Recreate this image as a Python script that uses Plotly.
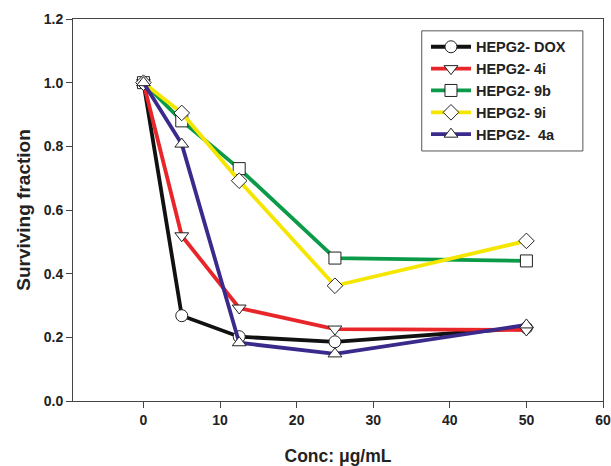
import plotly.graph_objects as go

conc = [0, 5, 12.5, 25, 50]
series_names = ["HEPG2- DOX", "HEPG2- 4i", "HEPG2- 9b", "HEPG2- 9i", "HEPG2-  4a"]
dox = [1.0, 0.268, 0.202, 0.186, 0.23]
s4i = [1.0, 0.519, 0.292, 0.226, 0.223]
s9b = [1.0, 0.88, 0.73, 0.449, 0.44]
s9i = [1.0, 0.905, 0.692, 0.362, 0.503]
s4a = [1.0, 0.807, 0.183, 0.148, 0.239]
colors = ["#111111", "#e8262a", "#0a9a48", "#f5e600", "#3b2a8c"]
symbols = ["circle", "triangle-down", "square", "diamond", "triangle-up"]
x_ticks = [0, 10, 20, 30, 40, 50, 60]
y_ticks = [0.0, 0.2, 0.4, 0.6, 0.8, 1.0, 1.2]

fig = go.Figure()
for name, vals, col, sym in zip(series_names, [dox, s4i, s9b, s9i, s4a], colors, symbols):
    fig.add_trace(go.Scatter(
        x=conc, y=vals, name=name, mode="lines+markers",
        line=dict(color=col, width=3.8),
        marker=dict(symbol=sym, size=12, color="white",
                    line=dict(color="#222222", width=1)),
    ))

font_family = "Liberation Sans, Arial, sans-serif"
# legend frame (paper coords, relative to the plot area)
fig.add_shape(type="rect", xref="paper", yref="paper",
              x0=0.658, x1=0.962, y0=0.6545, y1=0.969,
              line=dict(color="#555555", width=1), fillcolor="white", layer="above")

fig.update_layout(
    width=611, height=466,
    margin=dict(l=73, r=8, t=19, b=65),
    paper_bgcolor="white", plot_bgcolor="white",
    font=dict(family=font_family, color="#222222"),
    showlegend=True,
    legend=dict(
        x=0.666, y=0.969, xanchor="left", yanchor="top",
        borderwidth=0, bgcolor="rgba(0,0,0,0)",
        font=dict(family=font_family, size=14.5, color="#222222", weight="bold"),
        itemwidth=40, tracegroupgap=0,
    ),
    xaxis=dict(
        range=[-9.2, 60], tickvals=x_ticks, ticktext=[str(v) for v in x_ticks],
        showgrid=False, zeroline=False, showline=True, linecolor="#444444", linewidth=1,
        mirror=True, ticks="outside", ticklen=6, tickcolor="#444444", automargin=False,
        tickfont=dict(size=14, weight="bold", color="#222222"),
        title=dict(text="Conc: μg/mL", font=dict(size=17.5, weight="bold", color="#222222"), standoff=24),
    ),
    yaxis=dict(
        range=[0, 1.2], tickvals=y_ticks, ticktext=[f"{v:.1f}" for v in y_ticks],
        showgrid=False, zeroline=False, showline=True, linecolor="#444444", linewidth=1,
        mirror=True, ticks="outside", ticklen=6, tickcolor="#444444", automargin=False,
        tickfont=dict(size=14, weight="bold", color="#222222"),
        title=dict(text="Surviving fraction", font=dict(size=19, weight="bold", color="#222222"), standoff=8),
    ),
)

fig.write_html("out.html", config={"displayModeBar": False})
with open("out.html", "r", encoding="utf-8") as f:
    html = f.read()
html = html.replace("<body>", '<body style="margin:0;padding:0;overflow:hidden">', 1)
with open("out.html", "w", encoding="utf-8") as f:
    f.write(html)
